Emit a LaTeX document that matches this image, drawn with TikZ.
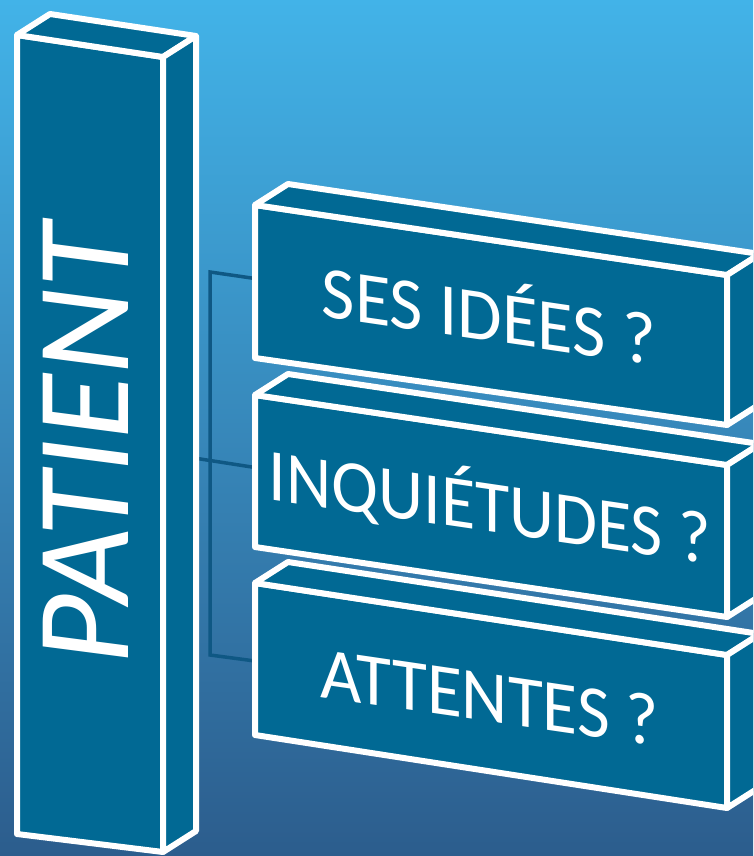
\documentclass[tikz,border=0pt]{standalone}
\usepackage{fontspec}
\setmainfont{Carlito}
\usetikzlibrary{calc}

\definecolor{skytop}{HTML}{42B3E8}
\definecolor{skybottom}{HTML}{2C5D8D}
\definecolor{boxblue}{HTML}{016994}
\definecolor{wire}{HTML}{0F5884}

\tikzset{
  face/.style={fill=boxblue, draw=white, line width=6pt, line join=round},
  wirepath/.style={draw=wire, line width=3.5pt},
  boxlabel/.style={text=white, inner sep=0pt, anchor=base, transform shape,
    font=\fontsize{74}{74}\selectfont},
  biglabel/.style={text=white, inner sep=0pt, anchor=center, transform shape,
    font=\fontsize{133}{133}\selectfont},
}

% a cuboid seen from the front: name, then front corners TL, TR, BR, BL
\newcommand\cuboid[5]{%
  \coordinate (#1-ftl) at #2;
  \coordinate (#1-ftr) at #3;
  \coordinate (#1-fbr) at #4;
  \coordinate (#1-fbl) at #5;
  \path[face] (#1-ftl) -- (#1-ftr) -- (#1-fbr) -- (#1-fbl) -- cycle;
  \path[face] (#1-ftl) -- ($(#1-ftl)+(33,-21)$) -- ($(#1-ftr)+(33,-21)$) -- (#1-ftr) -- cycle;
  \path[face] (#1-ftr) -- ($(#1-ftr)+(33,-21)$) -- ($(#1-fbr)+(33,-21)$) -- (#1-fbr) -- cycle;
}

\begin{document}
\begin{tikzpicture}[x=1pt, y=-1pt]
  \useasboundingbox (0,0) rectangle (753,856);
  \clip (0,0) rectangle (753,856);
  \shade[top color=skytop, bottom color=skybottom] (0,0) rectangle (753,856);

  % connector ends
  \coordinate (p-east) at (194,458);
  \coordinate (j-top)  at (210,272);
  \coordinate (j-bot)  at (210,655);
  \coordinate (b1-west) at (255,278.5);
  \coordinate (b2-west) at (255,467.5);
  \coordinate (b3-west) at (255,661);

  \draw[wirepath] (b1-west) -- (j-top) -- (j-bot) -- (b3-west);
  \draw[wirepath] (p-east) -- (b2-west);

  % the tall column
  \cuboid{col}{(17,35)}{(163,57)}{(163,852)}{(17,834)}
  \begin{scope}[shift={(86,442)}, rotate=90, xslant=0.13]
    \node[biglabel] (patient) at (0,0) {PATIENT};
  \end{scope}

  % the three slabs
  \cuboid{b3}{(255,583)}{(727,655)}{(727,808)}{(255,735)}
  \cuboid{b2}{(255,395)}{(727,465)}{(727,617)}{(255,547)}
  \cuboid{b1}{(255,205)}{(727,275)}{(727,425)}{(255,358)}

  \begin{scope}[shift={(489,341)}, yslant=-0.147, xscale=0.98]
    \node[boxlabel] (ideas) at (0,0) {SES IDÉES ?};
  \end{scope}
  \begin{scope}[shift={(490,532)}, yslant=-0.147, xscale=0.945]
    \node[boxlabel] (worries) at (0,0) {INQUIÉTUDES ?};
  \end{scope}
  \begin{scope}[shift={(490,722)}, yslant=-0.147, xscale=0.965]
    \node[boxlabel] (hopes) at (0,0) {ATTENTES ?};
  \end{scope}
\end{tikzpicture}
\end{document}
